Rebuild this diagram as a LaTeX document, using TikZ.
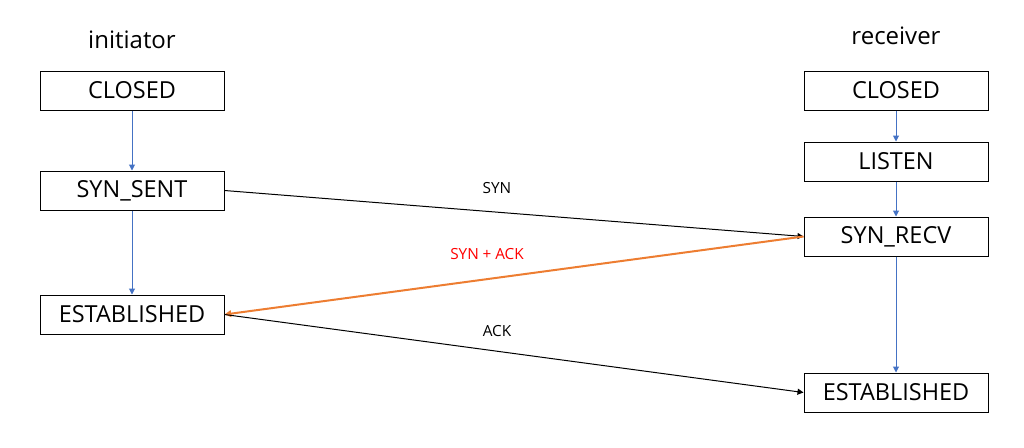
\documentclass[tikz,border=0pt]{standalone}
\usepackage{fontspec}
\setmainfont{Open Sans}
\usetikzlibrary{arrows.meta}
\definecolor{flowblue}{HTML}{4472C4}
\definecolor{flororange}{HTML}{ED7D31}
\begin{document}
\begin{tikzpicture}[x=0.75pt,y=-0.75pt,
  state/.style={draw=black,line width=0.75pt,minimum width=138pt,minimum height=29.25pt,inner sep=0pt,font=\fontsize{17.6}{20}\selectfont},
  head/.style={font=\fontsize{18}{20}\selectfont},
  flow/.style={draw=flowblue,line width=0.75pt,-{Triangle[length=4.5pt,width=4.5pt]}},
  msg/.style={draw=black,line width=0.75pt,-{Triangle[length=4.5pt,width=4.5pt]}},
  lbl/.style={font=\fontsize{11.5}{13}\selectfont}]
\useasboundingbox (0,0) rectangle (1024,447);
\node[head] (hi) at (132,40) {initiator};
\node[head] (hr) at (896,36) {receiver};
\node[state] (lc) at (132,90.5) {CLOSED};
\node[state] (ls) at (132,190.5) {SYN\_SENT};
\node[state] (le) at (132,314.5) {ESTABLISHED};
\node[state] (rc) at (896,90.5) {CLOSED};
\node[state] (rl) at (896,161.5) {LISTEN};
\node[state] (rr) at (896,236.5) {SYN\_RECV};
\node[state] (re) at (896,392.5) {ESTABLISHED};
\draw[flow] (lc) -- (ls);
\draw[flow] (ls) -- (le);
\draw[flow] (rc) -- (rl);
\draw[flow] (rl) -- (rr);
\draw[flow] (rr) -- (re);
\draw[msg] (ls.east) -- (rr.west);
\draw[draw=flororange,line width=1.5pt,-{Triangle[length=5pt,width=5pt]}] (rr.west) -- (le.east);
\draw[msg] (le.east) -- (re.west);
\node[lbl] (ls1) at (497,188) {SYN};
\node[lbl,text=red] (ls2) at (487,254) {SYN\hspace{0.25em}+\hspace{0.25em}ACK};
\node[lbl] (ls3) at (497,331) {ACK};
\end{tikzpicture}
\end{document}
